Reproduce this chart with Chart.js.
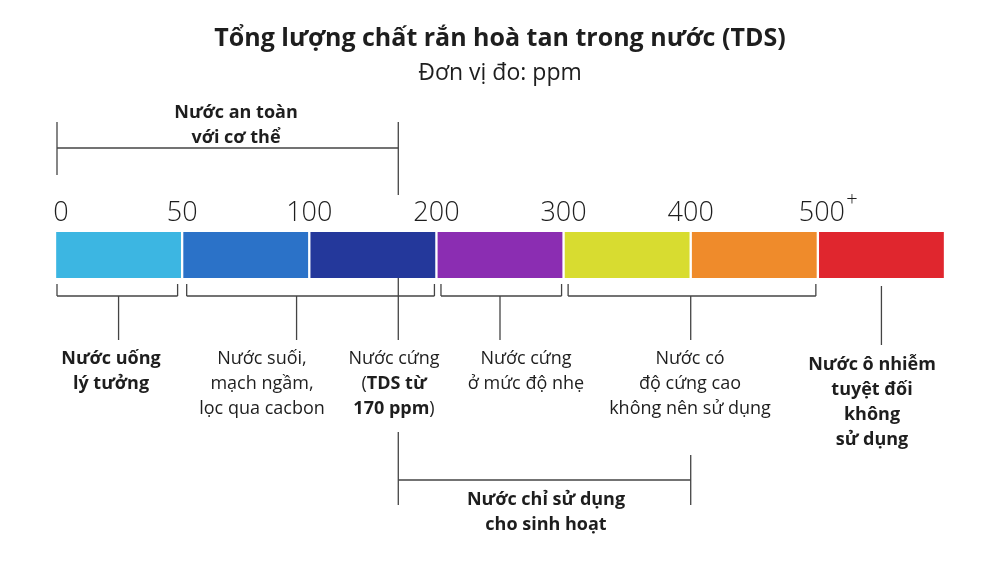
<!DOCTYPE html>
<html>
<head>
<meta charset="utf-8">
<script src="https://cdn.jsdelivr.net/npm/chart.js@4"></script>
<style>
  body { margin: 0; background: #fff; }
  #wrap { width: 1000px; height: 563px; position: relative; }
</style>
</head>
<body>
<div id="wrap"><canvas id="tds"></canvas></div>
<script>
// segments of the scale (equal width, index units)
const segments = ['0-50', '50-100', '100-200', '200-300', '300-400', '400-500', '500+'];
const segColors = ['#3cb6e2', '#2b72c8', '#24389b', '#8b2db2', '#d8dc30', '#ef8b2b', '#e0262e'];
const tickLabels = ['0', '50', '100', '200', '300', '400', '500'];
const tickIndex = [0, 1, 2, 3, 4, 5, 6];
const ppm170 = 2.7; // 170 ppm inside the 100-200 segment

// groups under the bar: [from, to, stem] in index units
const groups = [[0, 0.98, 0.5], [1.02, 3, 1.9], [3.02, 4, 3.5], [4.02, 6, 5.0]];

const f = (w, s) => w + ' ' + s + 'px "Open Sans", Arial, sans-serif';
const ink = '#1e1e1e';

const overlay = {
  id: 'overlay',
  afterDraw(chart) {
    const c = chart.ctx, x = chart.scales.x, a = chart.chartArea;
    const px = v => x.getPixelForValue(v);
    c.save();
    c.strokeStyle = '#444'; c.lineWidth = 1.3; c.fillStyle = ink;
    c.textAlign = 'center'; c.textBaseline = 'alphabetic';
    const line = (x1, y1, x2, y2) => { c.beginPath(); c.moveTo(x1, y1); c.lineTo(x2, y2); c.stroke(); };

    c.font = f('bold', 25); c.fillText('Tổng lượng chất rắn hoà tan trong nước (TDS)', 500, 46);
    c.font = f('normal', 23); c.fillText('Đơn vị đo: ppm', 500, 80);

    // ticks
    c.font = f('300', 27);
    tickIndex.forEach((v, i) => {
      let xx = px(v) + (i === 0 ? 6 : 0);
      if (i === 6) { xx += 4; c.fillText(tickLabels[i], xx, 221); c.font = f('300', 20); c.fillText('+', xx + 30, 206); }
      else c.fillText(tickLabels[i], xx, 221);
    });

    // top bracket (safe water)
    const l = px(0) + 2, r = px(ppm170);
    line(l, 122, l, 175); line(r, 122, r, 195); line(l, 148, r, 148);
    c.font = f('bold', 18);
    c.fillText('Nước an toàn', 236, 118); c.fillText('với cơ thể', 236, 143);

    // lower brackets
    groups.forEach(g => {
      const g1 = px(g[0]) + 2, g2 = px(g[1]) - 2, s = px(g[2]);
      line(g1, 284, g1, 296); line(g2, 284, g2, 296); line(g1, 296, g2, 296);
      line(s, 296, s, 340);
    });
    line(r, a.bottom, r, 340);
    line(px(6.5), 286, px(6.5), 345);
    // bottom bracket
    const b2 = px(5.0);
    line(r, 432, r, 505); line(b2, 455, b2, 505); line(r, 480, b2, 480);
    c.font = f('bold', 18);
    c.fillText('Nước chỉ sử dụng', 546, 505); c.fillText('cho sinh hoạt', 546, 530);

    // mixed-weight line helper
    const runs = (parts, cx, y) => {
      let w = 0;
      parts.forEach(p => { c.font = f(p[1], 18); w += c.measureText(p[0]).width; });
      let xx = cx - w / 2; c.textAlign = 'left';
      parts.forEach(p => { c.font = f(p[1], 18); c.fillText(p[0], xx, y); xx += c.measureText(p[0]).width; });
      c.textAlign = 'center';
    };
    const block = (lines, cx, y0, w) => { c.font = f(w, 18); lines.forEach((t, i) => c.fillText(t, cx, y0 + i * 25)); };

    block(['Nước uống', 'lý tưởng'], 111, 364, 'bold');
    block(['Nước suối,', 'mạch ngầm,', 'lọc qua cacbon'], 262, 364, 'normal');
    c.font = f('normal', 18); c.fillText('Nước cứng', 394, 364);
    runs([['(', 'normal'], ['TDS từ', 'bold']], 394, 389);
    runs([['170 ppm', 'bold'], [')', 'normal']], 394, 414);
    block(['Nước cứng', 'ở mức độ nhẹ'], 526, 364, 'normal');
    block(['Nước có', 'độ cứng cao', 'không nên sử dụng'], 690, 364, 'normal');
    block(['Nước ô nhiễm', 'tuyệt đối', 'không', 'sử dụng'], 872, 370, 'bold');
    c.restore();
  }
};

new Chart(document.getElementById('tds'), {
  type: 'bar',
  data: {
    labels: ['TDS'],
    datasets: segments.map((s, i) => ({
      label: s, data: [1], backgroundColor: segColors[i],
      borderColor: '#fff', borderWidth: { left: 1.5, right: 1.5, top: 0, bottom: 0 }, borderSkipped: false
    }))
  },
  options: {
    indexAxis: 'y', responsive: true, maintainAspectRatio: false, animation: false,
    layout: { padding: { left: 55, right: 55, top: 232, bottom: 285 } },
    datasets: { bar: { barPercentage: 1, categoryPercentage: 1 } },
    scales: {
      x: { stacked: true, min: 0, max: 7, display: false },
      y: { stacked: true, display: false }
    },
    plugins: { legend: { display: false }, tooltip: { enabled: false } }
  },
  plugins: [overlay]
});
</script>
</body>
</html>
